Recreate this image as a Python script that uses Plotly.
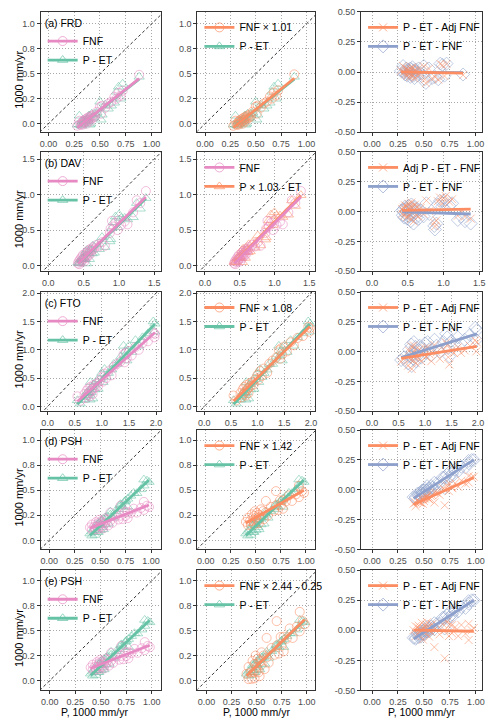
import numpy as np
import plotly.graph_objects as go

W, H = 500, 728
FONT = "Liberation Sans, Arial, Helvetica, sans-serif"

# ---------------- data (1000 mm/yr) ----------------
# FRD
FRD_P = [0.28, 0.30, 0.31, 0.32, 0.33, 0.33, 0.34, 0.35, 0.35, 0.36, 0.37, 0.37, 0.38, 0.38, 0.39,
         0.40, 0.40, 0.41, 0.42, 0.43, 0.44, 0.45, 0.47, 0.50, 0.51, 0.52, 0.55, 0.58, 0.61, 0.64,
         0.66, 0.68, 0.70, 0.72, 0.88]
FRD_FNF = [-0.02, 0.03, -0.01, 0.00, 0.02, -0.01, 0.03, 0.01, 0.04, 0.02, 0.05, 0.00, 0.03, 0.06, 0.04,
           0.02, 0.07, 0.05, 0.08, 0.06, 0.09, 0.07, 0.12, 0.17, 0.10, 0.18, 0.16, 0.20, 0.22, 0.27,
           0.25, 0.31, 0.28, 0.33, 0.49]
FRD_RES = [0.01, 0.05, 0.00, -0.02, 0.01, 0.03, -0.03, 0.02, -0.01, 0.00, -0.04, 0.03, 0.02, -0.02, 0.04,
           -0.03, 0.01, -0.05, 0.02, 0.00, -0.03, 0.03, -0.01, 0.05, -0.06, -0.09, 0.03, -0.05, -0.04, -0.06,
           0.07, 0.06, -0.03, 0.07, -0.02]   # P - ET - FNF

# DAV
DAV_P = [0.42, 0.43, 0.44, 0.45, 0.46, 0.47, 0.48, 0.49, 0.50, 0.51, 0.52, 0.53, 0.54, 0.55, 0.56,
         0.57, 0.58, 0.59, 0.60, 0.62, 0.63, 0.65, 0.68, 0.72, 0.76, 0.80, 0.87, 0.88, 0.90, 0.92,
         0.95, 0.98, 1.00, 1.03, 1.08, 1.12, 1.20, 1.25, 1.30, 1.38]
DAV_FNF = [0.03, 0.06, 0.02, 0.09, 0.05, 0.12, 0.07, 0.15, 0.10, 0.06, 0.13, 0.18, 0.11, 0.16, 0.21,
           0.14, 0.19, 0.23, 0.17, 0.22, 0.26, 0.24, 0.29, 0.27, 0.33, 0.28, 0.46, 0.52, 0.63, 0.55,
           0.60, 0.50, 0.64, 0.57, 0.62, 0.58, 0.75, 0.92, 0.88, 1.05]
DAV_RES = [0.01, -0.03, 0.02, -0.05, 0.04, -0.02, 0.03, -0.06, 0.01, 0.05, -0.04, 0.02, -0.08, 0.06, -0.03,
           0.03, -0.10, 0.00, 0.04, -0.05, 0.02, -0.06, 0.01, -0.04, 0.07, -0.02, -0.12, -0.15, -0.10, 0.06,
           0.09, 0.04, 0.08, 0.10, 0.05, 0.07, -0.07, -0.04, -0.08, -0.10]

# FTO
FTO_P = [0.55, 0.60, 0.68, 0.70, 0.72, 0.74, 0.75, 0.76, 0.78, 0.79, 0.80, 0.82, 0.83, 0.85, 0.87,
         0.90, 0.93, 0.96, 1.00, 1.02, 1.05, 1.08, 1.12, 1.18, 1.22, 1.28, 1.35, 1.40, 1.42, 1.44,
         1.46, 1.50, 1.55, 1.62, 1.68, 1.75, 1.85, 1.95, 1.97, 1.98]
FTO_FNF = [0.18, 0.10, 0.22, 0.15, 0.28, 0.20, 0.32, 0.24, 0.18, 0.35, 0.27, 0.30, 0.22, 0.38, 0.33,
           0.40, 0.36, 0.45, 0.52, 0.44, 0.58, 0.50, 0.62, 0.55, 0.70, 0.75, 0.80, 0.92, 0.78, 0.95,
           0.85, 0.98, 0.90, 1.05, 1.00, 1.12, 1.15, 1.30, 1.22, 1.28]
FTO_RES = [-0.07, -0.05, -0.10, 0.02, -0.04, 0.06, -0.12, 0.00, -0.06, 0.08, -0.02, 0.04, -0.08, 0.01, -0.03,
           0.05, -0.05, 0.03, 0.07, -0.01, 0.08, 0.02, -0.03, 0.10, 0.05, 0.00, 0.08, 0.15, 0.12, 0.03,
           -0.04, 0.09, 0.06, 0.12, 0.07, 0.10, 0.14, 0.20, 0.10, 0.18]

# PSH
PSH_P = [0.40, 0.42, 0.42, 0.44, 0.45, 0.46, 0.47, 0.48, 0.48, 0.49, 0.50, 0.50, 0.51, 0.52, 0.53,
         0.53, 0.55, 0.55, 0.57, 0.58, 0.60, 0.60, 0.62, 0.65, 0.68, 0.70, 0.70, 0.72, 0.74, 0.75,
         0.77, 0.77, 0.80, 0.83, 0.86, 0.90, 0.93, 0.93, 0.96, 0.98]
PSH_FNF = [0.130, 0.108, 0.158, 0.135, 0.109, 0.183, 0.137, 0.171, 0.111, 0.205, 0.159, 0.139, 0.192, 0.136, 0.180,
           0.120, 0.218, 0.168, 0.205, 0.149, 0.277, 0.197, 0.175, 0.236, 0.208, 0.346, 0.246, 0.213, 0.281, 0.245,
           0.282, 0.222, 0.274, 0.316, 0.277, 0.323, 0.384, 0.304, 0.346, 0.333]
PSH_RES = [-0.062, -0.061, -0.071, -0.031, -0.055, -0.029, -0.053, -0.008, -0.028, -0.032, -0.006, -0.036, 0.008, -0.006, 0.030,
           -0.010, 0.011, -0.009, 0.031, 0.017, 0.009, 0.059, 0.050, 0.056, 0.103, 0.015, 0.105, 0.125, 0.106, 0.152,
           0.132, 0.112, 0.170, 0.157, 0.193, 0.186, 0.222, 0.242, 0.249, 0.249]

# adjustment coefficients shown in the legends
FRD_FNF_FACTOR = 1.01
DAV_P_FACTOR = 1.03
FTO_FNF_FACTOR = 1.08
PSH_FNF_FACTOR_D = 1.42
PSH_FNF_FACTOR_E, PSH_FNF_OFFSET_E = 2.44, -0.25

ROW_TAGS = ["(a) FRD", "(b) DAV", "(c) FTO", "(d) PSH", "(e) PSH"]

# tick values / labels
T1 = [0, 0.25, 0.5, 0.75, 1.0]
T1X = ["0.00", "0.25", "0.50", "0.75", "1.00"]
T1Y = ["0.0", "0.2", "0.5", "0.8", "1.0"]
T15 = [0, 0.5, 1.0, 1.5]
T15L = ["0.0", "0.5", "1.0", "1.5"]
T2 = [0, 0.5, 1.0, 1.5, 2.0]
T2L = ["0.0", "0.5", "1.0", "1.5", "2.0"]
TR = [-0.5, -0.25, 0, 0.25, 0.5]
TRL = ["-0.50", "-0.25", "0.00", "0.25", "0.50"]

# ---------------- styling ----------------
PINK, GREEN, ORANGE, BLUE = "#E78AC3", "#66C2A5", "#FC8D62", "#8DA0CB"
SYM = {"circle": ("circle-open", 9), "tri": ("triangle-up-open", 9),
       "x": ("x-thin-open", 8), "diamond": ("diamond-open", 10)}

COL_X = [(40, 161), (198, 317), (363, 485)]
ROW_Y = [(7, 129), (149, 270), (291, 412), (431, 552), (573, 695)]
XTITLE_CX = [94, 258, 424]

# axis ranges per row: col1/col2 (x, y) and col3 x
R_XY = [([-0.075, 1.089], [-0.085, 1.12]),
        ([-0.108, 1.59], [-0.08, 1.60]),
        ([-0.128, 2.086], [-0.085, 2.02]),
        ([-0.084, 1.095], [-0.09, 1.10]),
        ([-0.09, 1.087], [-0.10, 1.105])]
R_X3 = [[-0.106, 1.064], [-0.154, 1.54], [-0.207, 2.08], [-0.105, 1.06], [-0.105, 1.06]]
TICKS = [(T1, T1X, T1Y), (T15, T15L, T15L), (T2, T2L, T2L), (T1, T1X, T1Y), (T1, T1X, T1Y)]


def arr(a):
    return np.asarray(a, dtype=float)


def build_rows():
    rows = []
    # (a) FRD
    P, F, R = arr(FRD_P), arr(FRD_FNF), arr(FRD_RES)
    PET = F + R
    adj = F * FRD_FNF_FACTOR
    rows.append(dict(P=P,
        c1=[("FNF", F, PINK, "circle"), ("P - ET", PET, GREEN, "tri")],
        c2=[(f"FNF × {FRD_FNF_FACTOR:.2f}", adj, ORANGE, "circle"), ("P - ET", PET, GREEN, "tri")],
        c3=[("P - ET - Adj FNF", PET - adj, ORANGE, "x"), ("P - ET - FNF", R, BLUE, "diamond")]))
    # (b) DAV
    P, F, R = arr(DAV_P), arr(DAV_FNF), arr(DAV_RES)
    PET = F + R
    padj = PET + (DAV_P_FACTOR - 1) * P
    rows.append(dict(P=P,
        c1=[("FNF", F, PINK, "circle"), ("P - ET", PET, GREEN, "tri")],
        c2=[("FNF", F, PINK, "circle"), (f"P × {DAV_P_FACTOR:.2f} - ET", padj, ORANGE, "tri")],
        c3=[("Adj P - ET - FNF", padj - F, ORANGE, "x"), ("P - ET - FNF", R, BLUE, "diamond")]))
    # (c) FTO
    P, F, R = arr(FTO_P), arr(FTO_FNF), arr(FTO_RES)
    PET = F + R
    adj = F * FTO_FNF_FACTOR
    rows.append(dict(P=P,
        c1=[("FNF", F, PINK, "circle"), ("P - ET", PET, GREEN, "tri")],
        c2=[(f"FNF × {FTO_FNF_FACTOR:.2f}", adj, ORANGE, "circle"), ("P - ET", PET, GREEN, "tri")],
        c3=[("P - ET - Adj FNF", PET - adj, ORANGE, "x"), ("P - ET - FNF", R, BLUE, "diamond")]))
    # (d) PSH
    P, F, R = arr(PSH_P), arr(PSH_FNF), arr(PSH_RES)
    PET = F + R
    adj = F * PSH_FNF_FACTOR_D
    rows.append(dict(P=P,
        c1=[("FNF", F, PINK, "circle"), ("P - ET", PET, GREEN, "tri")],
        c2=[(f"FNF × {PSH_FNF_FACTOR_D:.2f}", adj, ORANGE, "circle"), ("P - ET", PET, GREEN, "tri")],
        c3=[("P - ET - Adj FNF", PET - adj, ORANGE, "x"), ("P - ET - FNF", R, BLUE, "diamond")]))
    # (e) PSH
    adj = F * PSH_FNF_FACTOR_E + PSH_FNF_OFFSET_E
    rows.append(dict(P=P,
        c1=[("FNF", F, PINK, "circle"), ("P - ET", PET, GREEN, "tri")],
        c2=[(f"FNF × {PSH_FNF_FACTOR_E:.2f} - {abs(PSH_FNF_OFFSET_E):.2f}", adj, ORANGE, "circle"),
            ("P - ET", PET, GREEN, "tri")],
        c3=[("P - ET - Adj FNF", PET - adj, ORANGE, "x"), ("P - ET - FNF", R, BLUE, "diamond")]))
    return rows


ROWS = build_rows()

fig = go.Figure()
layout = dict(width=W, height=H, margin=dict(l=0, r=0, t=0, b=0),
              paper_bgcolor="white", plot_bgcolor="white", showlegend=True,
              font=dict(family=FONT, size=10, color="black"))

AX_COMMON = dict(showgrid=True, gridcolor="#A8A8A8", griddash="1px,2px", gridwidth=1,
                 zeroline=False, showline=True, mirror=True, linecolor="#333333", linewidth=1,
                 ticks="outside", ticklen=3, tickcolor="#333333", tickwidth=1,
                 tickfont=dict(family=FONT, size=9, color="#4D4D4D"), fixedrange=True)

annotations = []
for r, row in enumerate(ROWS):
    y0, y1 = ROW_Y[r]
    tv, tlx, tly = TICKS[r]
    for c in range(3):
        k = r * 3 + c + 1
        sfx = "" if k == 1 else str(k)
        xref, yref = "x" + sfx, "y" + sfx
        x0, x1 = COL_X[c]
        if c < 2:
            xr, yr = R_XY[r]
            ytv, ytl = tv, tly
        else:
            xr, yr = R_X3[r], [-0.5, 0.5]
            ytv, ytl = TR, TRL
        layout["xaxis" + sfx] = dict(AX_COMMON, domain=[x0 / W, x1 / W], range=xr, anchor=yref,
                                     tickvals=tv, ticktext=tlx)
        layout["yaxis" + sfx] = dict(AX_COMMON, domain=[1 - y1 / H, 1 - y0 / H], range=yr, anchor=xref,
                                     tickvals=ytv, ticktext=ytl)
        series = row["c%d" % (c + 1)]
        P = row["P"]
        # 1:1 reference line in the first two columns
        if c < 2:
            lo, hi = min(xr[0], yr[0]), max(xr[1], yr[1])
            fig.add_trace(go.Scatter(x=[lo, hi], y=[lo, hi], mode="lines", xaxis=xref, yaxis=yref,
                                     line=dict(color="#333333", width=1, dash="3px,2.5px"),
                                     showlegend=False, hoverinfo="skip"))
        # points (second series underneath)
        for name, Y, color, s in series[::-1]:
            sym, sz = SYM[s]
            fig.add_trace(go.Scatter(x=P, y=Y, mode="markers", xaxis=xref, yaxis=yref,
                                     marker=dict(symbol=sym, size=sz, color=color, opacity=0.55,
                                                 line=dict(width=1, color=color)),
                                     showlegend=False, hoverinfo="skip"))
        # least-squares lines
        for name, Y, color, s in series[::-1]:
            b1, b0 = np.polyfit(P, Y, 1)
            xs = np.array([P.min(), P.max()])
            fig.add_trace(go.Scatter(x=xs, y=b0 + b1 * xs, mode="lines", xaxis=xref, yaxis=yref,
                                     line=dict(color=color, width=2.8),
                                     showlegend=False, hoverinfo="skip"))
        # legend entries
        leg = "legend" + sfx
        for name, Y, color, s in series:
            sym, sz = SYM[s]
            fig.add_trace(go.Scatter(x=[None], y=[None], mode="lines+markers", name=name, legend=leg,
                                     marker=dict(symbol=sym, size=sz, color=color, opacity=0.7,
                                                 line=dict(width=1, color=color)),
                                     line=dict(color=color, width=2.8), hoverinfo="skip"))
        layout[leg] = dict(x=(x0 + 2) / W, y=1 - (y0 + 1) / H, xanchor="left", yanchor="top",
                           bgcolor="rgba(0,0,0,0)", borderwidth=0, itemwidth=30, tracegroupgap=0,
                           font=dict(family=FONT, size=10.5, color="black"),
                           title=dict(text=ROW_TAGS[r] if c == 0 else "",
                                      font=dict(family=FONT, size=10.5, color="black")))
    # y-axis title for the row
    annotations.append(dict(text="1000 mm/yr", x=18 / W, y=1 - ((y0 + y1) / 2 + 8) / H,
                            xref="paper", yref="paper", showarrow=False, textangle=-90,
                            font=dict(family=FONT, size=11, color="black"),
                            xanchor="center", yanchor="middle"))

for c in range(3):
    annotations.append(dict(text="P, 1000 mm/yr", x=XTITLE_CX[c] / W, y=1 - 717 / H,
                            xref="paper", yref="paper", showarrow=False,
                            font=dict(family=FONT, size=10.5, color="black"),
                            xanchor="center", yanchor="middle"))

layout["annotations"] = annotations
fig.update_layout(**layout)
fig.write_html("out.html")
